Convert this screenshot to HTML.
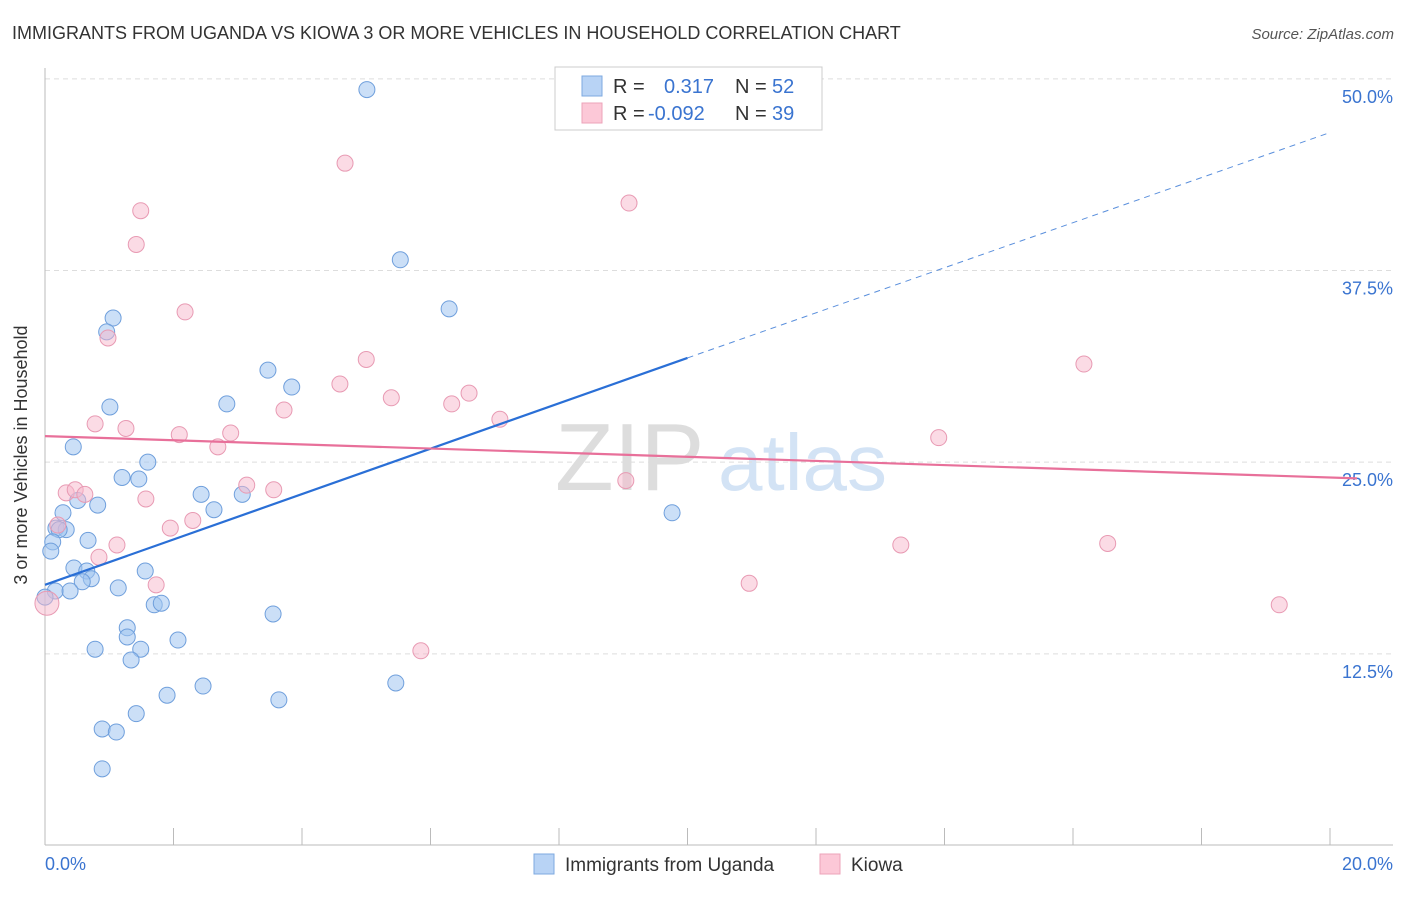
<!DOCTYPE html>
<html><head><meta charset="utf-8">
<style>
body{margin:0;background:#fff;font-family:"Liberation Sans",sans-serif;}
svg text{font-family:"Liberation Sans",sans-serif;}
</style></head>
<body>
<svg id="chart" width="1406" height="892" viewBox="0 0 1406 892" xmlns="http://www.w3.org/2000/svg">
<text x="12" y="39" font-size="18" fill="#333">IMMIGRANTS FROM UGANDA VS KIOWA 3 OR MORE VEHICLES IN HOUSEHOLD CORRELATION CHART</text>
<text x="1394" y="39" font-size="15" fill="#555" font-style="italic" text-anchor="end">Source: ZipAtlas.com</text>
<g>
<text x="555" y="490" font-size="96" fill="#ddd" font-family="Liberation Serif">ZIP</text>
<text x="718" y="490" font-size="80" fill="#d3e3f5">atlas</text>
</g>
<g id="grid"></g>
<g id="axes"></g>
<g id="points"></g>
<g id="trends"></g>
<text x="27" y="455" font-size="18" fill="#333" text-anchor="middle" transform="rotate(-90 27 455)">3 or more Vehicles in Household</text>
<g>
<rect x="555" y="67" width="267" height="63" fill="#fff" stroke="#ccc"/>
<rect x="582" y="76" width="20" height="20" fill="#b8d3f5" stroke="#7ea9e0"/>
<rect x="582" y="103" width="20" height="20" fill="#fcc8d7" stroke="#eca3ba"/>
<text font-size="20" fill="#333"><tspan x="613" y="93">R = </tspan><tspan x="664" fill="#3a74d0">0.317</tspan><tspan x="735">N = </tspan><tspan x="772" fill="#3a74d0">52</tspan></text>
<text font-size="20" fill="#333"><tspan x="613" y="120">R = </tspan><tspan x="648" fill="#3a74d0">-0.092</tspan><tspan x="735">N = </tspan><tspan x="772" fill="#3a74d0">39</tspan></text>
</g>
<g>
<rect x="534" y="854" width="20" height="20" fill="#b8d3f5" stroke="#7ea9e0"/>
<text x="565" y="871" font-size="19" fill="#333">Immigrants from Uganda</text>
<rect x="820" y="854" width="20" height="20" fill="#fcc8d7" stroke="#eca3ba"/>
<text x="851" y="871" font-size="19" fill="#333">Kiowa</text>
</g>
</svg>
<script>
const yTicks=[12.5,25,37.5,50];
const yTickLabels=["12.5%","25.0%","37.5%","50.0%"];
const xTicks=[0,2,4,6,8,10,12,14,16,18,20];
const blueX=[5.01,5.53,6.29,1.06,0.96,3.47,3.84,2.83,1.01,0.44,1.60,1.20,1.46,2.43,3.07,0.51,0.82,2.63,0.28,9.76,0.17,0.33,0.22,0.12,0.67,0.09,0.45,0.65,1.56,0.72,0.58,1.14,0.16,0.39,0.0,1.70,1.81,3.55,1.28,1.28,2.07,1.49,0.78,1.34,1.90,2.46,5.46,3.64,1.42,0.89,1.11,0.89];
const blueY=[49.3,38.2,35.0,34.4,33.5,31.0,29.9,28.8,28.6,26.0,25.0,24.0,23.9,22.9,22.9,22.5,22.2,21.9,21.7,21.7,20.7,20.6,20.6,19.8,19.9,19.2,18.1,17.9,17.9,17.4,17.2,16.8,16.6,16.6,16.2,15.7,15.8,15.1,14.2,13.6,13.4,12.8,12.8,12.1,9.8,10.4,10.6,9.5,8.6,7.6,7.4,5.0];
const pinkX=[4.67,9.09,1.49,1.42,2.18,0.98,5.00,16.17,4.59,5.39,6.60,6.33,3.72,7.08,0.78,1.26,2.09,2.89,13.91,2.69,9.04,3.14,0.33,0.47,0.62,3.56,1.57,2.30,1.95,0.20,1.12,0.84,13.32,16.54,1.73,10.96,19.21,5.85,0.03];
const pinkY=[44.5,41.9,41.4,39.2,34.8,33.1,31.7,31.4,30.1,29.2,29.5,28.8,28.4,27.8,27.5,27.2,26.8,26.9,26.6,26.0,23.8,23.5,23.0,23.2,22.9,23.2,22.6,21.2,20.7,20.9,19.6,18.8,19.6,19.7,17.0,17.1,15.7,12.7,15.8];
const blueTrend=[17.0,31.8,46.5]; // at x=0,10,20
const pinkTrend=[26.7,24.0]; // at x=0,20
const NS="http://www.w3.org/2000/svg";
const X=v=>45+v*64.25, Y=v=>845.5-v*15.333;
function mk(tag,attrs,parent){const e=document.createElementNS(NS,tag);for(const k in attrs)e.setAttribute(k,attrs[k]);document.getElementById(parent).appendChild(e);return e;}
yTicks.forEach((t,i)=>{
 const g=mk('line',{x1:45,x2:1393,y1:Y(t),y2:Y(t),stroke:'#ddd','stroke-dasharray':'5,4'},'grid');
 
 
 const l=mk('text',{x:1393,y:Y(t)+24,'font-size':18,fill:'#3a74d0','text-anchor':'end'},'axes');
 l.textContent=yTickLabels[i];
 
 
});
const ax=mk('line',{x1:45,x2:45,y1:68,y2:845,stroke:'#bbb'},'axes');


const bx=mk('line',{x1:45,x2:1393,y1:845,y2:845,stroke:'#bbb'},'axes');


xTicks.forEach(t=>{
 const k=mk('line',{x1:X(t),x2:X(t),y1:828,y2:845,stroke:'#bbb'},'axes');
 
 
});
const x0=mk('text',{x:45,y:870,'font-size':18,fill:'#3a74d0'},'axes');x0.textContent='0.0%';


const x1=mk('text',{x:1393,y:870,'font-size':18,fill:'#3a74d0','text-anchor':'end'},'axes');x1.textContent='20.0%';


blueX.forEach((v,i)=>{
 const c=mk('circle',{cx:X(v),cy:Y(blueY[i]),r:8,fill:'rgba(160,196,240,0.55)',stroke:'#6f9fdc','stroke-width':1},'points');
 
 
});
pinkX.forEach((v,i)=>{
 const c=mk('circle',{cx:X(v),cy:Y(pinkY[i]),r:i==pinkX.length-1?12:8,fill:'rgba(248,184,204,0.5)',stroke:'#e89ab3','stroke-width':1},'points');
 
 
});
const b1=mk('line',{x1:X(0),y1:Y(blueTrend[0]),x2:X(10),y2:Y(blueTrend[1]),stroke:'#2a6fd6','stroke-width':2.2},'trends');


const b2=mk('line',{x1:X(10),y1:Y(blueTrend[1]),x2:X(20),y2:Y(blueTrend[2]),stroke:'#5a8fdc','stroke-width':1,'stroke-dasharray':'6,5'},'trends');


const p1=mk('line',{x1:X(0),y1:Y(pinkTrend[0]),x2:X(20.42),y2:Y(pinkTrend[0]+(pinkTrend[1]-pinkTrend[0])*20.42/20),stroke:'#e8709a','stroke-width':2.2},'trends');


</script>
</body></html>
